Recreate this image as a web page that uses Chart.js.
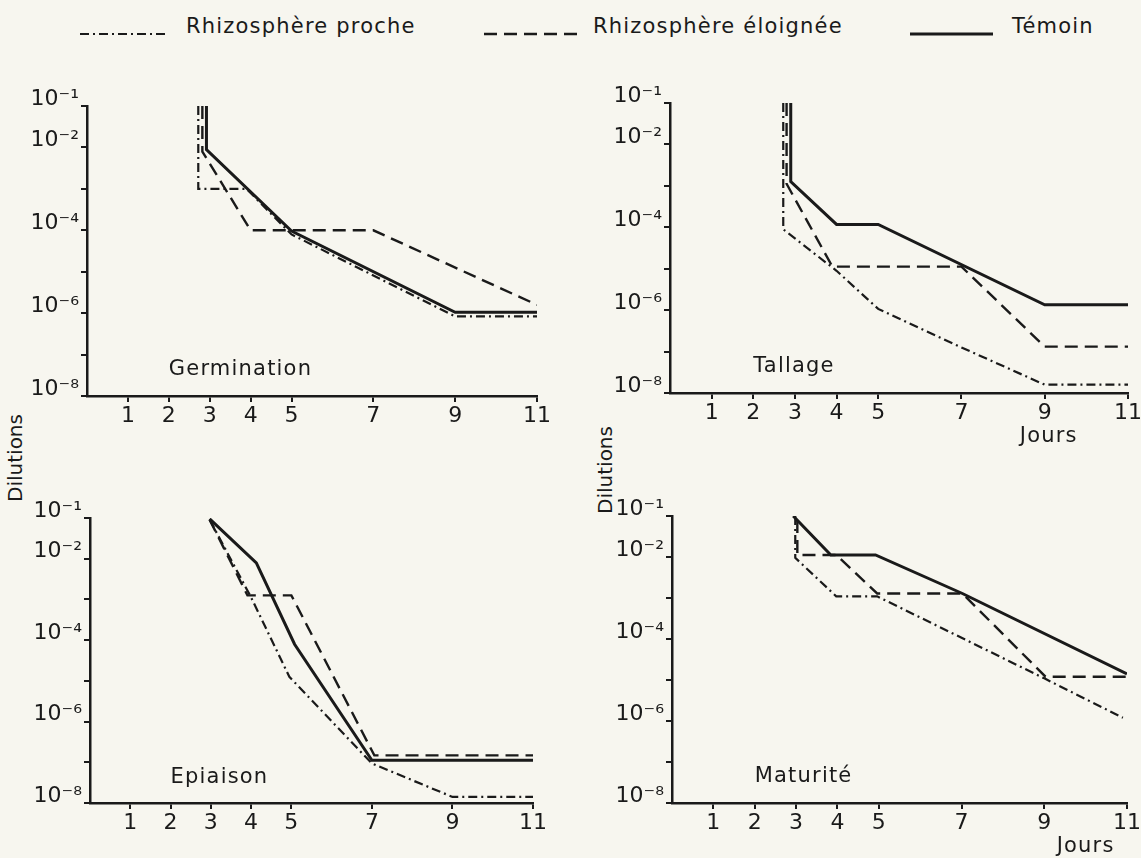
<!DOCTYPE html>
<html>
<head>
<meta charset="utf-8">
<script src="https://cdn.jsdelivr.net/npm/chart.js@4.4.0/dist/chart.umd.min.js"></script>
<style>
  body { margin: 0; width: 1141px; height: 858px; background: #f7f6ef; position: relative; overflow: hidden;
         font-family: "DejaVu Sans", sans-serif; color: #1a1a1a; }
  .txt { position: absolute; white-space: nowrap; font-size: 21px; letter-spacing: 1.2px; }
  .panel { position: absolute; }
  .vert { position: absolute; white-space: nowrap; font-size: 20px; transform: translate(-50%, -50%) rotate(-90deg); }
  svg { position: absolute; overflow: visible; }
</style>
</head>
<body>

<svg style="left:0;top:0" width="1141" height="60">
  <line x1="80" y1="34" x2="167" y2="34" stroke="#1a1a1a" stroke-width="2.2" stroke-dasharray="9 4 2 4"/>
  <line x1="484" y1="34" x2="579" y2="34" stroke="#1a1a1a" stroke-width="2.4" stroke-dasharray="13 7"/>
  <line x1="910" y1="34" x2="993" y2="34" stroke="#1a1a1a" stroke-width="3"/>
</svg>
<div class="txt" style="left:186px;top:14px">Rhizosphère proche</div>
<div class="txt" style="left:593px;top:14px">Rhizosphère éloignée</div>
<div class="txt" style="left:1012px;top:14px">Témoin</div>

<div class="vert" style="left:15px;top:458px">Dilutions</div>
<div class="vert" style="left:605px;top:470px">Dilutions</div>

<script>
// jours (x) et dilutions en puissance de 10 (y)
const DAY_TICKS = [1, 2, 3, 4, 5, 7, 9, 11];
const DILUTION_TICKS = [-8, -7, -6, -5, -4, -3, -2, -1];
const DILUTION_LABELS = { '-1': '10⁻¹', '-2': '10⁻²', '-4': '10⁻⁴', '-6': '10⁻⁶', '-8': '10⁻⁸' };
const SERIES_NAMES = ['Rhizosphère proche', 'Rhizosphère éloignée', 'Témoin'];

// Germination
const germProcheJours = [2.72, 2.72, 3.9, 5, 9, 11];
const germProcheDil   = [-1, -3, -3, -4.1, -6.08, -6.08];
const germEloigJours  = [2.82, 2.82, 4, 7, 11];
const germEloigDil    = [-1, -2.1, -4, -4, -5.8];
const germTemoinJours = [2.92, 2.92, 5, 9, 11];
const germTemoinDil   = [-1, -2.05, -4.02, -5.98, -5.98];

// Tallage
const tallProcheJours = [2.72, 2.72, 4, 5, 7, 9, 11];
const tallProcheDil   = [-1, -4.05, -5.05, -5.97, -6.9, -7.8, -7.8];
const tallEloigJours  = [2.8, 2.8, 3.9, 7, 9, 11];
const tallEloigDil    = [-1, -2.95, -4.95, -4.95, -6.88, -6.88];
const tallTemoinJours = [2.9, 2.9, 4, 5, 9, 11];
const tallTemoinDil   = [-1, -2.9, -3.93, -3.93, -5.87, -5.87];

// Epiaison
const epiProcheJours = [2.97, 4, 4.95, 7, 9, 11];
const epiProcheDil   = [-1.04, -2.95, -4.9, -7.03, -7.85, -7.85];
const epiEloigJours  = [2.97, 3.91, 5, 7.06, 11];
const epiEloigDil    = [-1.04, -2.9, -2.9, -6.83, -6.83];
const epiTemoinJours = [2.97, 4.13, 5.08, 7, 11];
const epiTemoinDil   = [-1.02, -2.1, -4.1, -6.95, -6.95];

// Maturité
const matProcheJours = [2.98, 2.98, 3.97, 4.96, 9, 10.9];
const matProcheDil   = [-1, -2.02, -2.96, -2.96, -4.96, -5.92];
const matEloigJours  = [3.03, 3.03, 3.97, 4.96, 7.02, 9.03, 11];
const matEloigDil    = [-1.1, -1.95, -1.95, -2.89, -2.89, -4.92, -4.92];
const matTemoinJours = [2.93, 3.84, 4.92, 7.02, 11];
const matTemoinDil   = [-1, -1.95, -1.95, -2.89, -4.85];

const INK = '#1a1a1a';
const LINE_STYLES = [
  { borderDash: [9, 4, 2, 4], borderWidth: 2.2 },
  { borderDash: [13, 7], borderWidth: 2.4 },
  { borderDash: [], borderWidth: 3 },
];

const Y_AXIS_W = 70, X_AXIS_H = 40, PAD_TOP = 30, PAD_RIGHT = 30;

function points(jours, dil) {
  return jours.map((j, i) => ({ x: j, y: dil[i] }));
}

function addText(text, left, top) {
  const d = document.createElement('div');
  d.className = 'txt';
  d.textContent = text;
  d.style.left = left + 'px';
  d.style.top = top + 'px';
  document.body.appendChild(d);
  return d;
}

function makePanel(area, title, series, joursAt) {
  const wrap = document.createElement('div');
  wrap.className = 'panel';
  const w = area.right - area.left + Y_AXIS_W + PAD_RIGHT;
  const h = area.bottom - area.top + PAD_TOP + X_AXIS_H;
  const ox = area.left - Y_AXIS_W, oy = area.top - PAD_TOP;
  wrap.style.left = ox + 'px';
  wrap.style.top = oy + 'px';
  const canvas = document.createElement('canvas');
  canvas.width = w;
  canvas.height = h;
  wrap.appendChild(canvas);
  document.body.appendChild(wrap);

  const datasets = series.map((s, i) => Object.assign({
    label: SERIES_NAMES[i],
    data: points(s[0], s[1]),
    borderColor: INK,
    showLine: true,
    fill: false,
    pointRadius: 0,
    tension: 0,
    borderJoinStyle: 'miter',
  }, LINE_STYLES[i]));

  const tickFont = { family: 'DejaVu Sans', size: 22 };
  const chart = new Chart(canvas, {
    type: 'scatter',
    data: { datasets: datasets },
    options: {
      responsive: false,
      animation: false,
      layout: { padding: { top: PAD_TOP, right: PAD_RIGHT, left: 0, bottom: 0 } },
      plugins: { legend: { display: false }, tooltip: { enabled: false } },
      scales: {
        x: {
          type: 'linear', min: 0, max: 11,
          afterBuildTicks: (s) => { s.ticks = DAY_TICKS.map(v => ({ value: v })); },
          afterFit: (s) => { s.height = X_AXIS_H; },
          border: { display: true, color: INK, width: 2.5 },
          grid: { drawOnChartArea: false, drawTicks: true, tickLength: 6, color: INK, lineWidth: 2 },
          ticks: { color: INK, font: tickFont, padding: 1, maxRotation: 0, autoSkip: false },
        },
        y: {
          type: 'linear', min: -8, max: -1,
          afterBuildTicks: (s) => { s.ticks = DILUTION_TICKS.map(v => ({ value: v })); },
          afterFit: (s) => { s.width = Y_AXIS_W; },
          border: { display: true, color: INK, width: 2.5 },
          grid: { drawOnChartArea: false, drawTicks: true, tickLength: 6, color: INK, lineWidth: 2 },
          ticks: {
            color: INK, font: tickFont, padding: 2, labelOffset: -7, autoSkip: false,
            callback: (v) => DILUTION_LABELS[String(v)] || '',
          },
        },
      },
    },
  });

  // titre du stade et "Jours", placés en coordonnées de données
  const xs = chart.scales.x, ys = chart.scales.y;
  addText(title, ox + xs.getPixelForValue(2), oy + ys.getPixelForValue(-7.35) - 13);
  if (joursAt) {
    addText('Jours', ox + xs.getPixelForValue(joursAt), oy + ys.getPixelForValue(-8) + 30);
  }
  return chart;
}

makePanel({ left: 87, right: 537, top: 106, bottom: 396 }, 'Germination',
  [[germProcheJours, germProcheDil], [germEloigJours, germEloigDil], [germTemoinJours, germTemoinDil]], null);
makePanel({ left: 670, right: 1128, top: 103, bottom: 393 }, 'Tallage',
  [[tallProcheJours, tallProcheDil], [tallEloigJours, tallEloigDil], [tallTemoinJours, tallTemoinDil]], 8.4);
makePanel({ left: 90, right: 533, top: 518, bottom: 803 }, 'Epiaison',
  [[epiProcheJours, epiProcheDil], [epiEloigJours, epiEloigDil], [epiTemoinJours, epiTemoinDil]], null);
makePanel({ left: 672, right: 1127, top: 516, bottom: 803 }, 'Maturité',
  [[matProcheJours, matProcheDil], [matEloigJours, matEloigDil], [matTemoinJours, matTemoinDil]], 9.3);
</script>
</body>
</html>
